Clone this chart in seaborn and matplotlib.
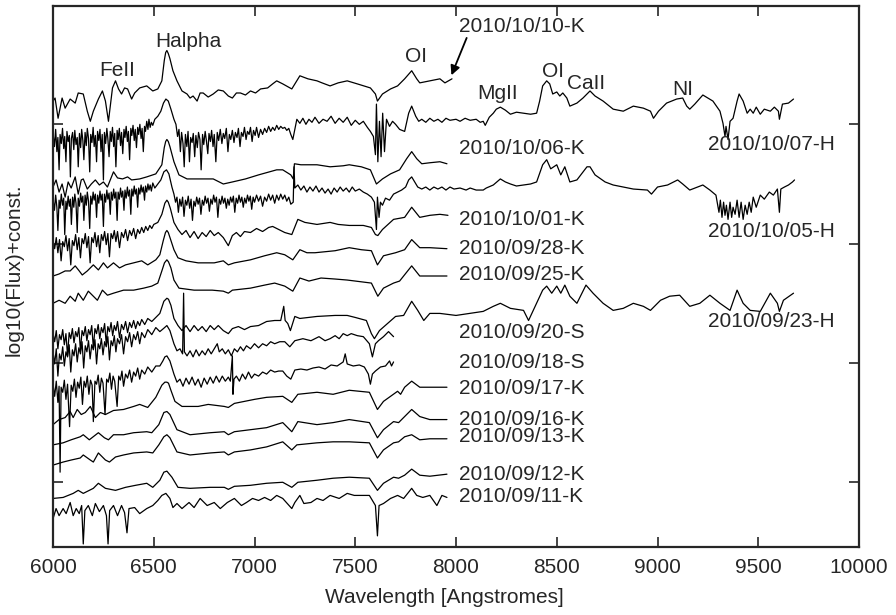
import matplotlib
matplotlib.use("Agg")
import matplotlib.pyplot as plt
import pandas as pd
import seaborn as sns

# Spectra: (wavelength [A], log10(flux) + const.)
SPEC_1010K = [
    (6000, -1.00), (6010, -0.97), (6025, -1.17), (6045, -0.97), (6060, -1.07),
    (6085, -0.98), (6110, -1.02), (6125, -0.92), (6150, -0.93), (6170, -1.10),
    (6185, -1.20), (6200, -1.10), (6225, -0.98), (6245, -0.90), (6260, -1.00),
    (6275, -1.20), (6295, -0.87), (6310, -0.80), (6325, -0.88), (6340, -0.93),
    (6355, -0.87), (6370, -0.88), (6390, -0.98), (6405, -0.92), (6430, -0.87),
    (6465, -0.85), (6495, -0.90), (6520, -0.88), (6540, -0.80), (6552, -0.60),
    (6559, -0.52), (6565, -0.50), (6572, -0.53), (6580, -0.58), (6595, -0.70),
    (6615, -0.80), (6640, -0.90),
    (6665, -0.93), (6680, -0.97), (6695, -0.95), (6715, -1.00), (6730, -0.92),
    (6745, -0.92), (6770, -0.96), (6795, -0.93), (6820, -0.89), (6845, -0.90),
    (6870, -0.95), (6890, -0.97), (6910, -0.92), (6930, -0.92), (6955, -0.94),
    (6980, -0.90), (7005, -0.92), (7030, -0.88), (7065, -0.87), (7090, -0.83),
    (7110, -0.80), (7140, -0.83), (7185, -0.88), (7225, -0.75), (7265, -0.78),
    (7310, -0.80), (7335, -0.82), (7375, -0.85), (7415, -0.82), (7460, -0.80),
    (7510, -0.83), (7575, -0.87), (7600, -0.93), (7610, -1.00), (7635, -0.93),
    (7675, -0.88), (7710, -0.85), (7745, -0.78), (7780, -0.70), (7805, -0.78),
    (7820, -0.82), (7870, -0.80), (7920, -0.78), (7945, -0.82), (7980, -0.78),
]

SPEC_1007H = [
    (6000, -1.32), (6007, -1.45), (6013, -1.28), (6019, -1.50), (6024, -1.36),
    (6030, -1.68), (6035, -1.33), (6041, -1.42), (6047, -1.27), (6053, -1.47),
    (6058, -1.35), (6064, -1.60), (6069, -1.30), (6075, -1.40), (6081, -1.34),
    (6086, -1.75), (6091, -1.37), (6097, -1.31), (6103, -1.48), (6108, -1.29),
    (6114, -1.43), (6120, -1.36), (6125, -1.65), (6131, -1.32), (6137, -1.46),
    (6142, -1.28), (6148, -1.39), (6153, -1.58), (6159, -1.31), (6165, -1.44),
    (6170, -1.27), (6176, -1.37), (6182, -1.70), (6187, -1.33), (6193, -1.41),
    (6199, -1.26), (6204, -1.45), (6210, -1.34), (6216, -1.60), (6221, -1.30),
    (6227, -1.39), (6233, -1.28), (6238, -1.50), (6244, -1.33), (6250, -1.78),
    (6255, -1.31), (6261, -1.42), (6267, -1.27), (6272, -1.37), (6278, -1.55),
    (6284, -1.30), (6289, -1.40), (6295, -1.26), (6301, -1.45), (6306, -1.32),
    (6312, -1.65), (6318, -1.29), (6323, -1.38), (6329, -1.27), (6335, -1.44),
    (6340, -1.31), (6346, -1.52), (6352, -1.28), (6357, -1.36), (6363, -1.25),
    (6369, -1.40), (6374, -1.30), (6380, -1.58), (6386, -1.27), (6391, -1.34),
    (6397, -1.24), (6403, -1.39), (6408, -1.28), (6414, -1.46), (6420, -1.26),
    (6425, -1.33), (6431, -1.23), (6437, -1.37), (6442, -1.27), (6448, -1.50),
    (6454, -1.25), (6459, -1.30), (6465, -1.20), (6471, -1.28), (6476, -1.18),
    (6482, -1.26), (6488, -1.21), (6495, -1.24), (6505, -1.18), (6520, -1.15),
    (6535, -1.10), (6548, -1.02), (6560, -0.98), (6572, -1.00), (6585, -1.08),
    (6600, -1.18), (6610, -1.23), (6618, -1.35), (6625, -1.28), (6632, -1.50),
    (6638, -1.31), (6645, -1.42), (6651, -1.65), (6657, -1.33), (6664, -1.45),
    (6670, -1.30), (6677, -1.60), (6683, -1.36), (6690, -1.41), (6696, -1.32),
    (6703, -1.55), (6709, -1.34), (6716, -1.46), (6722, -1.31), (6729, -1.38),
    (6735, -1.68), (6742, -1.33), (6748, -1.43), (6755, -1.30), (6761, -1.39),
    (6768, -1.52), (6774, -1.32), (6781, -1.40), (6787, -1.29), (6794, -1.45),
    (6800, -1.33), (6808, -1.60), (6815, -1.31), (6822, -1.39), (6830, -1.28),
    (6838, -1.42), (6845, -1.32), (6852, -1.37), (6860, -1.27), (6868, -1.50),
    (6875, -1.33), (6882, -1.38), (6890, -1.29), (6898, -1.41), (6905, -1.31),
    (6913, -1.36), (6920, -1.27), (6928, -1.45), (6935, -1.31), (6943, -1.35),
    (6950, -1.26), (6958, -1.38), (6965, -1.30), (6973, -1.33), (6980, -1.26),
    (6988, -1.40), (6995, -1.29), (7003, -1.34), (7010, -1.26), (7020, -1.36),
    (7030, -1.28), (7040, -1.33), (7050, -1.27), (7060, -1.31), (7070, -1.25),
    (7080, -1.30), (7090, -1.26), (7100, -1.29), (7110, -1.24), (7120, -1.28),
    (7130, -1.25), (7140, -1.27), (7150, -1.26), (7160, -1.29), (7170, -1.27),
    (7180, -1.33), (7190, -1.38), (7200, -1.28), (7210, -1.18), (7225, -1.22),
    (7240, -1.17), (7255, -1.23), (7270, -1.18), (7285, -1.21), (7300, -1.16),
    (7320, -1.22), (7340, -1.18), (7360, -1.20), (7380, -1.15), (7400, -1.22),
    (7420, -1.17), (7440, -1.21), (7460, -1.16), (7480, -1.24), (7500, -1.19),
    (7520, -1.23), (7540, -1.20), (7560, -1.26), (7575, -1.30), (7590, -1.35),
    (7600, -1.53), (7605, -1.03), (7612, -1.60), (7620, -1.20), (7628, -1.55),
    (7636, -1.12), (7645, -1.50), (7655, -1.18), (7670, -1.25), (7685, -1.20),
    (7700, -1.23), (7720, -1.28), (7745, -1.30), (7765, -1.12), (7780, -1.05),
    (7800, -1.15), (7815, -1.20), (7830, -1.18), (7850, -1.21), (7870, -1.17),
    (7890, -1.20), (7910, -1.18), (7930, -1.21), (7950, -1.17), (7970, -1.19),
    (8000, -1.18), (8020, -1.20), (8045, -1.17), (8070, -1.19), (8100, -1.18),
    (8120, -1.21), (8135, -1.20), (8145, -1.24), (8165, -1.16), (8185, -1.12),
    (8200, -1.08), (8220, -1.06), (8245, -1.09), (8270, -1.13), (8300, -1.11),
    (8335, -1.12), (8370, -1.13), (8400, -1.12), (8415, -1.00), (8430, -0.85),
    (8450, -0.80), (8465, -0.83), (8480, -0.93), (8500, -0.91), (8515, -0.95),
    (8530, -0.92), (8550, -0.97), (8565, -1.05), (8600, -1.02), (8630, -0.97),
    (8665, -0.90), (8690, -0.95), (8730, -1.00), (8780, -1.08), (8830, -1.10),
    (8880, -1.05), (8930, -1.07), (8965, -1.10), (8980, -1.17), (9005, -1.10),
    (9045, -1.02), (9095, -0.98), (9125, -0.97), (9145, -1.05), (9160, -1.08),
    (9185, -1.03), (9225, -0.94), (9275, -1.00), (9310, -1.10), (9325, -1.22),
    (9335, -1.35), (9340, -1.25), (9350, -1.38), (9360, -1.20), (9375, -1.17),
    (9395, -1.00), (9405, -0.93), (9425, -1.00), (9445, -1.12), (9460, -1.08),
    (9475, -1.12), (9490, -1.06), (9510, -1.13), (9530, -1.08), (9560, -1.10),
    (9580, -1.06), (9600, -1.10), (9605, -1.18), (9620, -1.03), (9650, -1.02),
    (9675, -0.98),
]

SPEC_1006K = [
    (6000, -1.85), (6015, -1.78), (6030, -1.90), (6045, -1.82), (6060, -1.95),
    (6075, -1.80), (6090, -1.86), (6110, -1.75), (6125, -1.92), (6140, -1.78),
    (6150, -1.77), (6170, -1.87), (6190, -1.82), (6210, -1.78), (6230, -1.83),
    (6250, -1.80), (6270, -1.85), (6300, -1.70), (6320, -1.76), (6345, -1.77),
    (6370, -1.75), (6390, -1.78), (6430, -1.77), (6465, -1.75), (6510, -1.72),
    (6540, -1.63), (6552, -1.46), (6559, -1.40), (6565, -1.38), (6572, -1.40),
    (6580, -1.45), (6600, -1.60),
    (6625, -1.73), (6665, -1.77), (6715, -1.77), (6795, -1.77), (6845, -1.82),
    (6890, -1.80), (6955, -1.77), (7020, -1.73), (7110, -1.68), (7140, -1.68),
    (7180, -1.73), (7192, -1.77), (7198, -1.62), (7230, -1.63), (7310, -1.63),
    (7375, -1.65), (7440, -1.64), (7470, -1.63), (7530, -1.65), (7575, -1.68),
    (7605, -1.82), (7635, -1.77), (7675, -1.72), (7720, -1.68), (7755, -1.57),
    (7780, -1.50), (7805, -1.57), (7830, -1.62), (7870, -1.61), (7920, -1.60),
    (7955, -1.62),
]

SPEC_1005H = [
    (6000, -1.97), (6007, -2.08), (6013, -1.93), (6019, -2.05), (6024, -2.28),
    (6030, -1.98), (6035, -2.06), (6041, -1.92), (6047, -2.03), (6053, -1.96),
    (6058, -2.32), (6064, -1.99), (6069, -2.07), (6075, -1.94), (6081, -2.04),
    (6086, -1.97), (6091, -2.22), (6097, -1.95), (6103, -2.05), (6108, -1.92),
    (6114, -2.01), (6120, -2.30), (6125, -1.96), (6131, -2.04), (6137, -1.91),
    (6142, -2.00), (6148, -1.94), (6153, -2.18), (6159, -1.93), (6165, -2.03),
    (6170, -1.90), (6176, -1.99), (6182, -2.26), (6187, -1.94), (6193, -2.02),
    (6199, -1.90), (6204, -1.98), (6210, -1.92), (6216, -2.15), (6221, -1.93),
    (6227, -2.01), (6233, -1.89), (6238, -1.98), (6244, -1.92), (6250, -2.24),
    (6255, -1.92), (6261, -2.00), (6267, -1.88), (6272, -1.97), (6278, -1.91),
    (6284, -2.12), (6289, -1.90), (6295, -1.98), (6301, -1.87), (6306, -1.96),
    (6312, -1.90), (6318, -2.18), (6323, -1.90), (6329, -1.97), (6335, -1.86),
    (6340, -1.95), (6346, -1.89), (6352, -2.08), (6357, -1.88), (6363, -1.96),
    (6369, -1.85), (6374, -1.94), (6380, -1.88), (6386, -2.12), (6391, -1.87),
    (6397, -1.94), (6403, -1.84), (6408, -1.92), (6414, -1.87), (6420, -2.05),
    (6425, -1.86), (6431, -1.92), (6437, -1.83), (6442, -1.90), (6448, -1.85),
    (6454, -1.98), (6459, -1.84), (6465, -1.90), (6471, -1.82), (6476, -1.88),
    (6482, -1.83), (6488, -1.89), (6495, -1.81), (6505, -1.86), (6520, -1.82),
    (6535, -1.78), (6550, -1.70), (6563, -1.68), (6575, -1.72), (6590, -1.85),
    (6600, -1.92), (6608, -2.00), (6615, -1.95), (6622, -2.10), (6629, -1.97),
    (6636, -2.04), (6643, -1.95), (6650, -2.14), (6657, -1.98), (6664, -2.03),
    (6671, -1.94), (6678, -2.06), (6685, -1.97), (6692, -2.18), (6699, -1.99),
    (6706, -2.04), (6713, -1.95), (6720, -2.02), (6727, -1.96), (6734, -2.12),
    (6741, -1.98), (6748, -2.03), (6755, -1.94), (6762, -2.01), (6769, -1.96),
    (6776, -2.09), (6783, -1.97), (6790, -2.02), (6797, -1.93), (6804, -2.00),
    (6811, -1.95), (6818, -2.15), (6825, -1.97), (6832, -2.02), (6839, -1.94),
    (6846, -2.01), (6853, -1.96), (6860, -2.06), (6867, -1.97), (6874, -2.03),
    (6881, -1.95), (6888, -2.00), (6895, -1.94), (6902, -2.10), (6909, -1.96),
    (6916, -2.01), (6923, -1.93), (6930, -2.00), (6937, -1.95), (6944, -2.05),
    (6951, -1.96), (6958, -2.01), (6965, -1.93), (6972, -1.99), (6979, -1.94),
    (6986, -2.07), (6993, -1.95), (7000, -2.00), (7010, -1.93), (7020, -1.99),
    (7030, -1.94), (7040, -2.04), (7050, -1.95), (7060, -1.99), (7070, -1.92),
    (7080, -1.98), (7090, -1.93), (7100, -2.01), (7110, -1.93), (7120, -1.98),
    (7130, -1.92), (7140, -1.97), (7150, -1.93), (7160, -1.99), (7170, -1.95),
    (7180, -2.02), (7192, -2.00), (7196, -1.65), (7200, -1.86), (7215, -1.83),
    (7230, -1.88), (7245, -1.84), (7260, -1.90), (7275, -1.85), (7290, -1.89),
    (7305, -1.84), (7320, -1.90), (7335, -1.86), (7350, -1.91), (7365, -1.87),
    (7380, -1.92), (7395, -1.86), (7410, -1.90), (7425, -1.85), (7440, -1.89),
    (7455, -1.86), (7470, -1.90), (7485, -1.85), (7500, -1.89), (7520, -1.87),
    (7540, -1.90), (7560, -1.92), (7580, -1.95), (7595, -2.00), (7605, -2.27),
    (7610, -1.95), (7618, -2.15), (7625, -2.00), (7635, -2.03), (7650, -1.96),
    (7670, -1.98), (7690, -1.92), (7710, -1.90), (7730, -1.88), (7750, -1.85),
    (7765, -1.78), (7780, -1.75), (7795, -1.80), (7810, -1.85), (7830, -1.87),
    (7850, -1.85), (7870, -1.88), (7890, -1.85), (7910, -1.87), (7930, -1.85),
    (7950, -1.88), (7970, -1.85), (7990, -1.87), (8020, -1.86), (8050, -1.88),
    (8070, -1.86), (8100, -1.88), (8135, -1.88), (8150, -1.86), (8185, -1.83),
    (8220, -1.77), (8245, -1.80), (8270, -1.82), (8300, -1.84), (8335, -1.83),
    (8370, -1.82), (8400, -1.80), (8430, -1.63), (8450, -1.58), (8470, -1.67),
    (8500, -1.63), (8520, -1.73), (8540, -1.65), (8565, -1.80), (8600, -1.78),
    (8650, -1.65), (8665, -1.65), (8690, -1.73), (8740, -1.80), (8780, -1.83),
    (8830, -1.85), (8880, -1.87), (8950, -1.88), (8970, -1.92), (9000, -1.85),
    (9050, -1.83), (9100, -1.78), (9125, -1.82), (9160, -1.88), (9225, -1.83),
    (9260, -1.88), (9290, -1.93), (9305, -2.10), (9312, -1.98), (9320, -2.15),
    (9328, -2.00), (9335, -2.13), (9342, -2.03), (9350, -2.17), (9360, -2.00),
    (9368, -2.15), (9375, -2.05), (9385, -2.12), (9395, -1.98), (9405, -2.15),
    (9415, -2.00), (9425, -2.17), (9435, -2.03), (9445, -2.12), (9455, -2.00),
    (9465, -2.10), (9475, -1.95), (9490, -2.05), (9510, -1.93), (9530, -1.97),
    (9555, -1.90), (9575, -1.93), (9595, -1.87), (9605, -2.10), (9612, -1.87),
    (9630, -1.85), (9650, -1.83), (9670, -1.80), (9680, -1.78),
]

SPEC_1001K = [
    (6000, -2.38), (6008, -2.46), (6016, -2.35), (6024, -2.50), (6032, -2.37),
    (6040, -2.58), (6048, -2.39), (6056, -2.44), (6064, -2.33), (6072, -2.48),
    (6080, -2.36), (6088, -2.62), (6096, -2.38), (6104, -2.43), (6112, -2.32),
    (6120, -2.47), (6128, -2.35), (6136, -2.55), (6144, -2.36), (6152, -2.41),
    (6160, -2.31), (6168, -2.45), (6176, -2.34), (6184, -2.60), (6192, -2.35),
    (6200, -2.40), (6208, -2.30), (6216, -2.44), (6224, -2.33), (6232, -2.50),
    (6240, -2.32), (6248, -2.38), (6256, -2.29), (6264, -2.42), (6272, -2.31),
    (6280, -2.54), (6288, -2.31), (6296, -2.36), (6304, -2.28), (6312, -2.39),
    (6320, -2.29), (6330, -2.45), (6340, -2.30), (6350, -2.35), (6360, -2.27),
    (6370, -2.38), (6380, -2.28), (6390, -2.33), (6400, -2.26), (6410, -2.36),
    (6420, -2.27), (6430, -2.31), (6440, -2.25), (6450, -2.30), (6460, -2.24),
    (6470, -2.28), (6480, -2.23), (6490, -2.26), (6500, -2.22), (6520, -2.20),
    (6540, -2.12), (6555, -2.01), (6565, -1.98), (6572, -2.00), (6582, -2.06),
    (6600, -2.20),
    (6620, -2.27), (6640, -2.32), (6660, -2.28), (6680, -2.35), (6700, -2.29),
    (6720, -2.36), (6740, -2.30), (6760, -2.34), (6780, -2.28), (6800, -2.33),
    (6820, -2.30), (6845, -2.35), (6870, -2.43), (6890, -2.33), (6910, -2.30),
    (6930, -2.34), (6950, -2.29), (6980, -2.30), (7010, -2.26), (7040, -2.29),
    (7070, -2.25), (7090, -2.24), (7120, -2.27), (7150, -2.30), (7185, -2.32),
    (7215, -2.17), (7250, -2.20), (7310, -2.22), (7375, -2.20), (7415, -2.22),
    (7470, -2.23), (7540, -2.23), (7580, -2.25), (7600, -2.32), (7612, -2.33),
    (7635, -2.27), (7690, -2.17), (7745, -2.15), (7780, -2.05), (7820, -2.15),
    (7870, -2.13), (7920, -2.12), (7960, -2.13),
]

SPEC_0928K = [
    (6000, -2.73), (6030, -2.71), (6060, -2.68), (6085, -2.68), (6110, -2.63),
    (6130, -2.68), (6145, -2.72), (6170, -2.68), (6200, -2.62), (6225, -2.67),
    (6250, -2.60), (6270, -2.65), (6300, -2.60), (6330, -2.65), (6360, -2.62),
    (6400, -2.60), (6440, -2.58), (6470, -2.62), (6510, -2.57), (6530, -2.52),
    (6547, -2.38), (6558, -2.30), (6565, -2.28), (6572, -2.30), (6582, -2.36),
    (6600, -2.47), (6620, -2.55),
    (6660, -2.58), (6720, -2.60), (6800, -2.60), (6845, -2.58), (6870, -2.62),
    (6900, -2.60), (6980, -2.57), (7050, -2.53), (7110, -2.50), (7150, -2.52),
    (7190, -2.57), (7225, -2.47), (7260, -2.50), (7300, -2.50), (7350, -2.49),
    (7400, -2.48), (7470, -2.45), (7530, -2.47), (7580, -2.48), (7610, -2.62),
    (7640, -2.53), (7700, -2.50), (7745, -2.47), (7780, -2.37), (7820, -2.45),
    (7870, -2.45), (7955, -2.46),
]

SPEC_0925K = [
    (6000, -3.00), (6030, -2.97), (6060, -3.00), (6085, -2.93), (6110, -2.98),
    (6125, -2.90), (6150, -2.97), (6175, -2.88), (6200, -2.93), (6220, -2.97),
    (6245, -2.87), (6270, -2.92), (6300, -2.90), (6350, -2.87), (6400, -2.87),
    (6450, -2.85), (6490, -2.83), (6520, -2.80), (6540, -2.68), (6553, -2.60),
    (6565, -2.57), (6573, -2.59), (6585, -2.65), (6600, -2.77), (6625, -2.85),
    (6700, -2.87), (6790, -2.87),
    (6845, -2.88), (6870, -2.90), (6890, -2.87), (6980, -2.85), (7050, -2.82),
    (7100, -2.80), (7150, -2.83), (7190, -2.88), (7225, -2.75), (7270, -2.78),
    (7330, -2.75), (7400, -2.76), (7460, -2.77), (7540, -2.79), (7580, -2.80),
    (7612, -2.93), (7640, -2.85), (7690, -2.80), (7720, -2.78), (7780, -2.63),
    (7820, -2.73), (7870, -2.73), (7955, -2.73),
]

SPEC_0923H = [
    (6000, -3.30), (6008, -3.38), (6016, -3.27), (6024, -3.45), (6032, -3.31),
    (6040, -3.36), (6048, -3.26), (6056, -3.41), (6064, -3.30), (6072, -3.52),
    (6080, -3.29), (6088, -3.35), (6096, -3.25), (6104, -3.39), (6112, -3.28),
    (6120, -3.33), (6128, -3.24), (6136, -3.47), (6144, -3.27), (6152, -3.32),
    (6160, -3.23), (6168, -3.37), (6176, -3.26), (6184, -3.31), (6192, -3.22),
    (6200, -3.44), (6208, -3.25), (6216, -3.30), (6224, -3.21), (6232, -3.35),
    (6240, -3.24), (6248, -3.29), (6256, -3.20), (6264, -3.40), (6272, -3.23),
    (6280, -3.28), (6288, -3.19), (6296, -3.32), (6304, -3.22), (6312, -3.27),
    (6320, -3.18), (6330, -3.34), (6340, -3.21), (6350, -3.26), (6360, -3.18),
    (6370, -3.29), (6380, -3.19), (6390, -3.24), (6400, -3.17), (6410, -3.25),
    (6420, -3.18), (6430, -3.22), (6440, -3.16), (6455, -3.21), (6470, -3.15),
    (6490, -3.18), (6510, -3.14), (6530, -3.10), (6550, -2.98), (6565, -2.95),
    (6573, -2.96), (6585, -3.02), (6600, -3.15), (6620, -3.22), (6640, -3.27),
    (6660, -3.22),
    (6680, -3.28), (6700, -3.22), (6720, -3.27), (6740, -3.23), (6760, -3.28),
    (6780, -3.22), (6800, -3.26), (6820, -3.22), (6845, -3.27), (6870, -3.30),
    (6890, -3.25), (6920, -3.23), (6950, -3.26), (6980, -3.23), (7020, -3.22),
    (7060, -3.18), (7100, -3.17), (7130, -3.17), (7145, -3.03), (7152, -3.17),
    (7165, -3.20), (7178, -3.27), (7200, -3.13), (7225, -3.15), (7310, -3.13),
    (7400, -3.12), (7460, -3.12), (7500, -3.14), (7555, -3.17), (7580, -3.30),
    (7595, -3.35), (7620, -3.27), (7660, -3.20), (7700, -3.13), (7740, -3.12),
    (7780, -2.98), (7810, -3.07), (7840, -3.17), (7870, -3.10), (7920, -3.10),
    (8000, -3.12), (8135, -3.08), (8185, -3.03), (8220, -3.00), (8270, -3.05),
    (8335, -3.07), (8360, -3.17), (8400, -3.00), (8430, -2.87), (8450, -2.83),
    (8475, -2.90), (8500, -2.83), (8520, -2.90), (8540, -2.82), (8565, -2.93),
    (8600, -3.00), (8645, -2.82), (8680, -2.90), (8730, -3.00), (8780, -3.07),
    (8830, -3.05), (8880, -3.00), (8930, -3.03), (8965, -3.07), (9015, -2.97),
    (9060, -2.93), (9110, -2.92), (9160, -3.03), (9210, -3.00), (9260, -2.92),
    (9310, -3.00), (9360, -3.07), (9395, -2.87), (9425, -3.00), (9460, -3.07),
    (9510, -3.08), (9560, -2.90), (9595, -3.00), (9605, -3.08), (9625, -2.97),
    (9675, -2.90),
]

SPEC_0920S = [
    (6000, -3.48), (6008, -3.60), (6016, -3.45), (6024, -3.72), (6032, -3.50),
    (6040, -3.56), (6048, -3.43), (6056, -3.62), (6064, -3.48), (6072, -3.53),
    (6080, -3.41), (6088, -3.68), (6096, -3.46), (6104, -3.52), (6112, -3.40),
    (6120, -3.58), (6128, -3.44), (6136, -3.50), (6144, -3.38), (6152, -3.64),
    (6160, -3.42), (6168, -3.48), (6176, -3.37), (6184, -3.55), (6192, -3.41),
    (6200, -3.46), (6208, -3.36), (6216, -3.60), (6224, -3.40), (6232, -3.45),
    (6240, -3.35), (6248, -3.51), (6256, -3.38), (6264, -3.43), (6272, -3.33),
    (6280, -3.56), (6288, -3.37), (6296, -3.42), (6304, -3.32), (6312, -3.48),
    (6320, -3.35), (6330, -3.40), (6340, -3.31), (6350, -3.50), (6360, -3.33),
    (6370, -3.38), (6380, -3.29), (6390, -3.43), (6400, -3.31), (6410, -3.36),
    (6420, -3.28), (6430, -3.40), (6440, -3.29), (6455, -3.34), (6470, -3.26),
    (6490, -3.31), (6510, -3.24), (6530, -3.28), (6548, -3.25), (6565, -3.22),
    (6580, -3.27), (6600, -3.40), (6615, -3.47), (6630, -3.45), (6643, -3.50),
    (6648, -2.90), (6652, -3.48), (6665, -3.52), (6680, -3.47), (6695, -3.53),
    (6710, -3.46), (6725, -3.52), (6740, -3.47), (6755, -3.51), (6770, -3.45),
    (6785, -3.50), (6800, -3.45), (6815, -3.40), (6825, -3.48), (6840, -3.45),
    (6855, -3.50), (6870, -3.46), (6885, -3.52), (6900, -3.45), (6915, -3.48),
    (6930, -3.43), (6945, -3.47), (6960, -3.42), (6980, -3.45), (7000, -3.40),
    (7020, -3.44), (7040, -3.40), (7060, -3.42), (7080, -3.38), (7100, -3.40),
    (7125, -3.38), (7150, -3.38), (7175, -3.43), (7200, -3.37), (7240, -3.35),
    (7280, -3.37), (7320, -3.33), (7350, -3.37), (7375, -3.35), (7400, -3.32),
    (7420, -3.35), (7440, -3.30), (7460, -3.32), (7480, -3.30), (7510, -3.32),
    (7540, -3.33), (7570, -3.40), (7585, -3.53), (7600, -3.40), (7615, -3.37),
    (7640, -3.33), (7665, -3.28), (7690, -3.33),
]

SPEC_0918S = [
    (6000, -3.80), (6008, -3.92), (6016, -3.77), (6024, -3.98), (6030, -3.82),
    (6035, -4.67), (6040, -3.83), (6048, -3.88), (6056, -3.76), (6064, -3.95),
    (6072, -3.80), (6082, -4.22), (6090, -3.81), (6098, -3.87), (6106, -3.75),
    (6114, -3.93), (6122, -3.78), (6130, -3.84), (6138, -3.73), (6146, -4.00),
    (6154, -3.77), (6162, -3.83), (6170, -3.72), (6178, -3.90), (6186, -3.76),
    (6194, -3.81), (6200, -4.17), (6208, -3.77), (6216, -3.80), (6224, -3.71),
    (6232, -3.88), (6240, -3.74), (6248, -3.79), (6258, -4.10), (6266, -3.75),
    (6274, -3.78), (6282, -3.69), (6290, -3.85), (6298, -3.72), (6306, -3.77),
    (6318, -4.02), (6326, -3.72), (6334, -3.76), (6342, -3.67), (6350, -3.82),
    (6360, -3.70), (6370, -3.74), (6380, -3.66), (6390, -3.78), (6400, -3.68),
    (6410, -3.72), (6420, -3.64), (6430, -3.75), (6440, -3.66), (6455, -3.70),
    (6470, -3.63), (6490, -3.68), (6510, -3.62), (6530, -3.62), (6545, -3.57),
    (6555, -3.53), (6565, -3.52), (6580, -3.57), (6600, -3.70), (6615, -3.78),
    (6630, -3.75), (6645, -3.82), (6660, -3.74), (6675, -3.80), (6690, -3.73),
    (6705, -3.81), (6720, -3.75), (6735, -3.83), (6750, -3.74), (6765, -3.80),
    (6780, -3.73), (6795, -3.79), (6810, -3.72), (6825, -3.78), (6840, -3.72),
    (6855, -3.77), (6870, -3.73), (6880, -3.77), (6890, -3.52), (6893, -3.90),
    (6898, -3.75), (6910, -3.72), (6925, -3.77), (6940, -3.70), (6955, -3.75),
    (6970, -3.68), (6985, -3.74), (7000, -3.70), (7020, -3.72), (7040, -3.68),
    (7060, -3.70), (7080, -3.66), (7100, -3.68), (7120, -3.67), (7140, -3.67),
    (7160, -3.72), (7180, -3.75), (7200, -3.66), (7230, -3.65), (7260, -3.66),
    (7290, -3.64), (7320, -3.63), (7350, -3.65), (7380, -3.61), (7410, -3.62),
    (7440, -3.58), (7450, -3.50), (7460, -3.60), (7490, -3.62), (7520, -3.61),
    (7545, -3.63), (7565, -3.70), (7575, -3.80), (7585, -3.70), (7600, -3.67),
    (7625, -3.63), (7650, -3.62), (7670, -3.57), (7680, -3.62), (7690, -3.58),
]

SPEC_0917K = [
    (6000, -4.20), (6030, -4.15), (6060, -4.13), (6085, -4.07), (6100, -4.13),
    (6120, -4.05), (6140, -4.10), (6160, -4.08), (6185, -4.02), (6210, -4.13),
    (6235, -4.08), (6260, -4.10), (6300, -4.06), (6350, -4.05), (6400, -4.02),
    (6430, -4.00), (6470, -4.03), (6510, -3.93), (6540, -3.81), (6555, -3.78),
    (6565, -3.78), (6573, -3.79), (6585, -3.86), (6605, -3.97), (6640, -4.02),
    (6720, -4.02), (6770, -4.00),
    (6850, -4.02), (6870, -4.03), (6900, -3.99), (7000, -3.95), (7060, -3.93),
    (7140, -3.92), (7185, -3.98), (7215, -3.90), (7310, -3.88), (7390, -3.90),
    (7470, -3.86), (7570, -3.88), (7610, -4.05), (7640, -3.97), (7710, -3.87),
    (7725, -3.90), (7745, -3.83), (7780, -3.77), (7820, -3.83), (7870, -3.83),
    (7955, -3.83),
]

SPEC_0916K = [
    (6000, -4.40), (6050, -4.38), (6090, -4.35), (6135, -4.32), (6150, -4.30),
    (6180, -4.35), (6225, -4.28), (6255, -4.33), (6275, -4.35), (6300, -4.30),
    (6350, -4.30), (6400, -4.28), (6465, -4.27), (6490, -4.28), (6525, -4.20),
    (6550, -4.08), (6565, -4.07), (6580, -4.10), (6615, -4.25), (6680, -4.30),
    (6780, -4.28), (6850, -4.27), (6870, -4.30), (6900, -4.27), (6980, -4.25),
    (7060, -4.23), (7140, -4.18), (7185, -4.27), (7215, -4.17), (7310, -4.20),
    (7390, -4.18), (7470, -4.15), (7570, -4.18), (7610, -4.33), (7640, -4.25),
    (7690, -4.17), (7715, -4.18), (7745, -4.12), (7780, -4.05), (7820, -4.12),
    (7870, -4.15), (7955, -4.15),
]

SPEC_0913K = [
    (6000, -4.60), (6050, -4.57), (6090, -4.55), (6135, -4.53), (6150, -4.50),
    (6185, -4.55), (6200, -4.57), (6225, -4.48), (6260, -4.55), (6280, -4.57),
    (6310, -4.52), (6350, -4.50), (6400, -4.48), (6465, -4.47), (6495, -4.48),
    (6525, -4.40), (6550, -4.32), (6565, -4.30), (6580, -4.33), (6615, -4.47),
    (6680, -4.50), (6780, -4.48), (6850, -4.47), (6870, -4.50), (6900, -4.47),
    (6980, -4.45), (7060, -4.42), (7140, -4.37), (7185, -4.45), (7210, -4.40),
    (7310, -4.38), (7390, -4.37), (7470, -4.37), (7570, -4.38), (7610, -4.53),
    (7640, -4.45), (7690, -4.38), (7715, -4.37), (7745, -4.32), (7780, -4.30),
    (7820, -4.35), (7870, -4.34), (7955, -4.34),
]

SPEC_0912K = [
    (6000, -4.93), (6050, -4.92), (6100, -4.88), (6125, -4.85), (6150, -4.88),
    (6200, -4.83), (6225, -4.78), (6260, -4.83), (6310, -4.85), (6360, -4.82),
    (6410, -4.80), (6465, -4.78), (6495, -4.82), (6530, -4.75), (6550, -4.67),
    (6565, -4.66), (6590, -4.72), (6620, -4.82), (6680, -4.83), (6780, -4.82),
    (6850, -4.82), (6870, -4.84), (6900, -4.81), (6980, -4.80), (7060, -4.78),
    (7140, -4.77), (7185, -4.82), (7215, -4.77), (7310, -4.75), (7390, -4.73),
    (7470, -4.72), (7570, -4.73), (7610, -4.85), (7640, -4.78), (7690, -4.72),
    (7715, -4.73), (7745, -4.70), (7780, -4.64), (7820, -4.70), (7870, -4.71),
    (7955, -4.69),
]

SPEC_0911K = [
    (6000, -5.13), (6015, -5.03), (6030, -5.10), (6050, -5.03), (6065, -5.08),
    (6085, -4.97), (6100, -5.10), (6115, -5.03), (6130, -5.08), (6142, -5.00),
    (6150, -5.38), (6158, -5.05), (6175, -5.00), (6195, -5.10), (6210, -4.98),
    (6230, -5.06), (6250, -5.00), (6265, -5.10), (6273, -5.38), (6281, -5.05),
    (6300, -5.00), (6320, -5.10), (6340, -5.00), (6355, -5.07), (6367, -5.27),
    (6377, -5.03), (6405, -5.02), (6430, -5.08), (6465, -5.03), (6495, -5.00),
    (6520, -4.95), (6540, -4.90), (6560, -4.88), (6580, -4.93), (6595, -5.02),
    (6615, -4.98), (6640, -5.03), (6675, -4.97), (6700, -5.02), (6730, -4.93),
    (6765, -5.00), (6800, -4.97), (6830, -5.03), (6865, -4.97), (6900, -4.93),
    (6935, -5.00), (6960, -4.97), (6990, -4.93), (7020, -4.95), (7050, -4.92),
    (7080, -4.95), (7110, -4.90), (7140, -4.93), (7185, -5.03), (7200, -4.97),
    (7225, -4.90), (7245, -4.98), (7280, -4.97), (7310, -4.93), (7340, -4.95),
    (7375, -4.90), (7420, -4.93), (7460, -4.88), (7495, -4.90), (7570, -4.90),
    (7600, -5.00), (7610, -5.30), (7618, -5.00), (7640, -4.98), (7675, -4.93),
    (7710, -4.90), (7740, -4.93), (7780, -4.83), (7805, -4.90), (7835, -4.92),
    (7870, -4.90), (7905, -5.00), (7930, -4.90), (7955, -4.92),
]

SPECTRA = [
    SPEC_1010K, SPEC_1007H, SPEC_1006K, SPEC_1005H, SPEC_1001K,
    SPEC_0928K, SPEC_0925K, SPEC_0923H, SPEC_0920S, SPEC_0918S,
    SPEC_0917K, SPEC_0916K, SPEC_0913K, SPEC_0912K, SPEC_0911K,
]

# date labels: text, wavelength, level
DATE_LABELS = [
    ("2010/10/10-K", 8015, -0.26),
    ("2010/10/06-K", 8015, -1.47),
    ("2010/10/01-K", 8015, -2.17),
    ("2010/09/28-K", 8015, -2.46),
    ("2010/09/25-K", 8015, -2.72),
    ("2010/09/20-S", 8015, -3.29),
    ("2010/09/18-S", 8015, -3.59),
    ("2010/09/17-K", 8015, -3.84),
    ("2010/09/16-K", 8015, -4.15),
    ("2010/09/13-K", 8015, -4.32),
    ("2010/09/12-K", 8015, -4.69),
    ("2010/09/11-K", 8015, -4.91),
    ("2010/10/07-H", 9250, -1.43),
    ("2010/10/05-H", 9250, -2.29),
    ("2010/09/23-H", 9250, -3.18),
]

# line identifications
LINE_IDS = [
    ("FeII", 6320, -0.70),
    ("Halpha", 6670, -0.41),
    ("OI", 7800, -0.56),
    ("MgII", 8205, -0.93),
    ("OI", 8480, -0.71),
    ("CaII", 8645, -0.83),
    ("NI", 9125, -0.89),
]


def main() -> None:
    sns.set_style("ticks")
    plt.rcParams["font.family"] = ["Liberation Sans", "DejaVu Sans"]

    fig = plt.figure(figsize=(8.96, 6.15), dpi=100)
    ax = fig.add_axes([0.0592, 0.1106, 0.8995, 0.8796])

    for spec in SPECTRA:
        frame = pd.DataFrame(spec, columns=["wave", "flux"])
        sns.lineplot(
            data=frame, x="wave", y="flux", ax=ax,
            color="black", linewidth=0.9,
            estimator=None, sort=False, legend=False,
        )

    for text, wave, level in DATE_LABELS:
        ax.text(wave, level, text, fontsize=15, ha="left", va="center")

    for text, wave, level in LINE_IDS:
        ax.text(wave, level, text, fontsize=15, ha="center", va="center")

    ax.annotate(
        "", xy=(7972, -0.77), xytext=(8058, -0.35),
        arrowprops=dict(arrowstyle="-|>", color="black", lw=1.3,
                        mutation_scale=14),
    )

    ax.set_xlim(6000, 10000)
    ax.set_ylim(-5.41, -0.06)
    ax.set_xticks(range(6000, 10001, 500))
    ax.set_yticks([-4.77, -3.59, -2.41, -1.23])
    ax.set_yticklabels([])
    ax.tick_params(direction="in", length=7, width=1.2, top=True,
                   right=True, labelsize=15, pad=8)
    for spine in ax.spines.values():
        spine.set_linewidth(1.6)

    ax.set_xlabel("Wavelength [Angstromes]", fontsize=15)
    ax.set_ylabel("log10(Flux)+const.", fontsize=15)
    ax.xaxis.set_label_coords(0.485, -0.076)
    ax.yaxis.set_label_coords(-0.036, 0.512)

    fig.savefig("out.png", dpi=100)


if __name__ == "__main__":
    main()
